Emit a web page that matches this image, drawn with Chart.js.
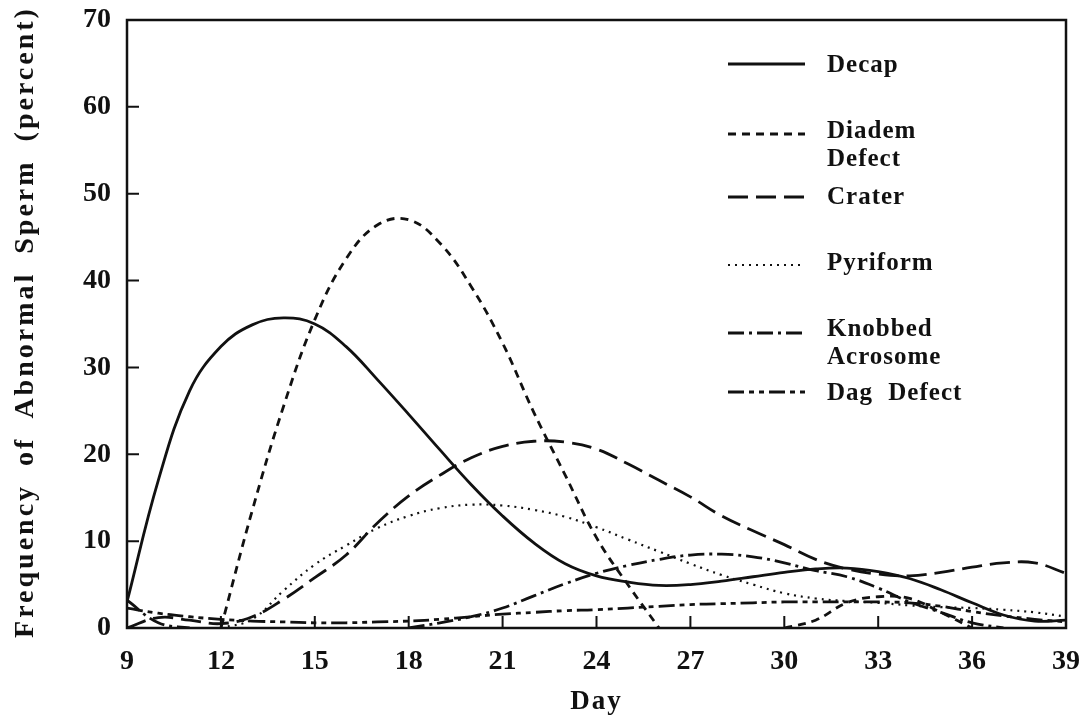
<!DOCTYPE html>
<html>
<head>
<meta charset="utf-8">
<title>Frequency of Abnormal Sperm</title>
<script src="https://cdn.jsdelivr.net/npm/chart.js@4.4.1/dist/chart.umd.min.js"></script>
<style>
  body { margin: 0; background: #fff; }
  #wrap { width: 1091px; height: 726px; }
</style>
</head>
<body>
<div id="wrap"><canvas id="freqChart" width="1091" height="726"></canvas></div>
<script>
// Days sampled along the x axis
const days = [9, 10, 11, 12, 13, 14, 15, 16, 17, 18, 19, 20, 21, 22, 23, 24,
              25, 26, 27, 28, 29, 30, 31, 32, 33, 34, 35, 36, 37, 38, 39];

// Frequency (percent), one value per day (null = curve not drawn)
const decap    = [3.0, 17.0, 27.3, 32.4, 34.9, 35.7, 35.0, 32.4, 28.6, 24.6, 20.5, 16.5, 12.9, 9.8, 7.4, 6.0,
                  5.3, 4.9, 5.0, 5.4, 5.9, 6.4, 6.8, 6.9, 6.5, 5.7, 4.4, 2.9, 1.5, 0.8, 0.9];
const diadem   = [null, null, null, 0, 13.5, 25.5, 35.5, 42.5, 46.4, 47.0, 44.3, 39.3, 32.8, 24.8, 17.6, 10.4,
                  5.0, 0, null, null, null, 0, 0.9, 2.9, 3.6, 3.4, 1.8, 0, null, null, null];
const crater   = [0, 1.2, 0.9, 0.5, 1.3, 3.3, 5.8, 8.4, 12.1, 15.2, 17.6, 19.6, 20.9, 21.5, 21.4, 20.6,
                  18.9, 17.0, 15.1, 12.9, 11.2, 9.6, 7.9, 6.8, 6.2, 6.0, 6.4, 7.0, 7.5, 7.5, 6.3];
const pyriform = [null, null, null, 0, 1.0, 4.3, 7.3, 9.5, 11.5, 12.9, 13.8, 14.2, 14.1, 13.6, 12.8, 11.6,
                  10.2, 8.8, 7.4, 6.1, 5.0, 4.0, 3.4, 3.1, 2.9, 2.6, 2.4, 2.3, 2.1, 1.8, 1.3];
const knobbed  = [3.2, 0.6, 0, null, null, null, null, null, null, 0, 0.6, 1.3, 2.3, 3.7, 5.1, 6.3,
                  7.2, 7.9, 8.4, 8.5, 8.2, 7.5, 6.6, 5.9, 4.6, 3.0, 1.8, 0.6, 0, null, null];
const dag      = [2.3, 1.7, 1.3, 1.0, 0.8, 0.7, 0.6, 0.6, 0.7, 0.8, 1.0, 1.3, 1.6, 1.8, 2.0, 2.1,
                  2.3, 2.5, 2.7, 2.8, 2.9, 3.0, 3.0, 3.0, 3.0, 2.9, 2.5, 1.9, 1.4, 1.0, 0.7];

// Legend names (one entry per text line)
const seriesNames = [['Decap'], ['Diadem', 'Defect'], ['Crater'], ['Pyriform'], ['Knobbed', 'Acrosome'], ['Dag Defect']];
const seriesValues = [decap, diadem, crater, pyriform, knobbed, dag];

// Axis ticks and titles
const xTicks = { min: 9, max: 39, step: 3 };
const yTicks = { min: 0, max: 70, step: 10 };
const xTitle = 'Day';
const yTitle = 'Frequency of Abnormal Sperm (percent)';

const INK = '#111';
const FONT = "'Liberation Serif', 'Times New Roman', serif";
const dashes = [[], [8, 6], [20, 8], [2, 5], [16, 5, 3, 5], [16, 5, 5, 5, 5, 5]];
const widths = [2.8, 2.8, 2.8, 2.2, 2.8, 2.8];

// Build datasets from the arrays
const datasets = seriesValues.map((vals, i) => ({
    label: seriesNames[i].join(' '),
    data: days.map((d, k) => ({ x: d, y: vals[k] })),
    borderColor: INK,
    borderWidth: widths[i],
    borderDash: dashes[i],
    borderCapStyle: 'butt',
    pointRadius: 0,
    fill: false,
    spanGaps: false,
    tension: 0.4
}));

// Frame, inward tick marks, axis titles and legend
const decorPlugin = {
    id: 'decor',
    afterDatasetsDraw(chart) {
        const { ctx, chartArea: a, scales } = chart;
        ctx.save();
        ctx.strokeStyle = INK;
        ctx.setLineDash([]);

        // box round the plot
        ctx.lineWidth = 2.5;
        ctx.strokeRect(a.left, a.top, a.right - a.left, a.bottom - a.top);

        // tick marks pointing inward
        ctx.lineWidth = 2;
        ctx.beginPath();
        scales.y.ticks.forEach(t => {
            const py = scales.y.getPixelForValue(t.value);
            ctx.moveTo(a.left, py);
            ctx.lineTo(a.left + 12, py);
        });
        scales.x.ticks.forEach(t => {
            const px = scales.x.getPixelForValue(t.value);
            ctx.moveTo(px, a.bottom);
            ctx.lineTo(px, a.bottom - 12);
        });
        ctx.stroke();

        // axis titles
        ctx.fillStyle = INK;
        ctx.font = 'bold 27px ' + FONT;
        ctx.letterSpacing = '2px';
        ctx.textAlign = 'center';
        ctx.textBaseline = 'alphabetic';
        ctx.fillText(xTitle, (a.left + a.right) / 2, 709);

        ctx.save();
        ctx.translate(33, 322);
        ctx.rotate(-Math.PI / 2);
        ctx.font = 'bold 28px ' + FONT;
        ctx.letterSpacing = '3px';
        ctx.wordSpacing = '8px';
        ctx.fillText(yTitle, 0, 0);
        ctx.restore();

        // legend
        const lineYs = [64, 134, 197, 265, 333, 392];
        const textYs = [72, 138, 204, 270, 336, 400];
        ctx.font = 'bold 25px ' + FONT;
        ctx.letterSpacing = '1px';
        ctx.wordSpacing = '8px';
        ctx.textAlign = 'left';
        chart.data.datasets.forEach((ds, i) => {
            ctx.lineWidth = ds.borderWidth;
            ctx.setLineDash(ds.borderDash);
            ctx.beginPath();
            ctx.moveTo(728, lineYs[i]);
            ctx.lineTo(805, lineYs[i]);
            ctx.stroke();
            seriesNames[i].forEach((txt, j) => {
                ctx.fillText(txt, 827, textYs[i] + j * 28);
            });
        });
        ctx.restore();
    }
};

const ctx = document.getElementById('freqChart').getContext('2d');
const freqChart = new Chart(ctx, {
    type: 'line',
    data: { datasets: datasets },
    options: {
        responsive: false,
        animation: false,
        layout: { padding: { left: 0, top: 20, right: 25, bottom: 0 } },
        plugins: {
            legend: { display: false },
            tooltip: { enabled: false }
        },
        scales: {
            x: {
                type: 'linear',
                min: xTicks.min,
                max: xTicks.max,
                grid: { display: false, drawTicks: false },
                border: { display: false },
                ticks: {
                    stepSize: xTicks.step,
                    color: INK,
                    padding: 17,
                    maxRotation: 0,
                    font: { family: FONT, size: 28, weight: 'bold' }
                },
                afterFit(scale) {
                    scale.height = 98;
                    scale.paddingLeft = 0;
                    scale.paddingRight = 0;
                }
            },
            y: {
                min: yTicks.min,
                max: yTicks.max,
                grid: { display: false, drawTicks: false },
                border: { display: false },
                ticks: {
                    stepSize: yTicks.step,
                    color: INK,
                    padding: 16,
                    font: { family: FONT, size: 28, weight: 'bold' }
                },
                afterFit(scale) {
                    scale.width = 127;
                    scale.paddingTop = 0;
                    scale.paddingBottom = 0;
                }
            }
        }
    },
    plugins: [decorPlugin]
});
</script>
</body>
</html>
